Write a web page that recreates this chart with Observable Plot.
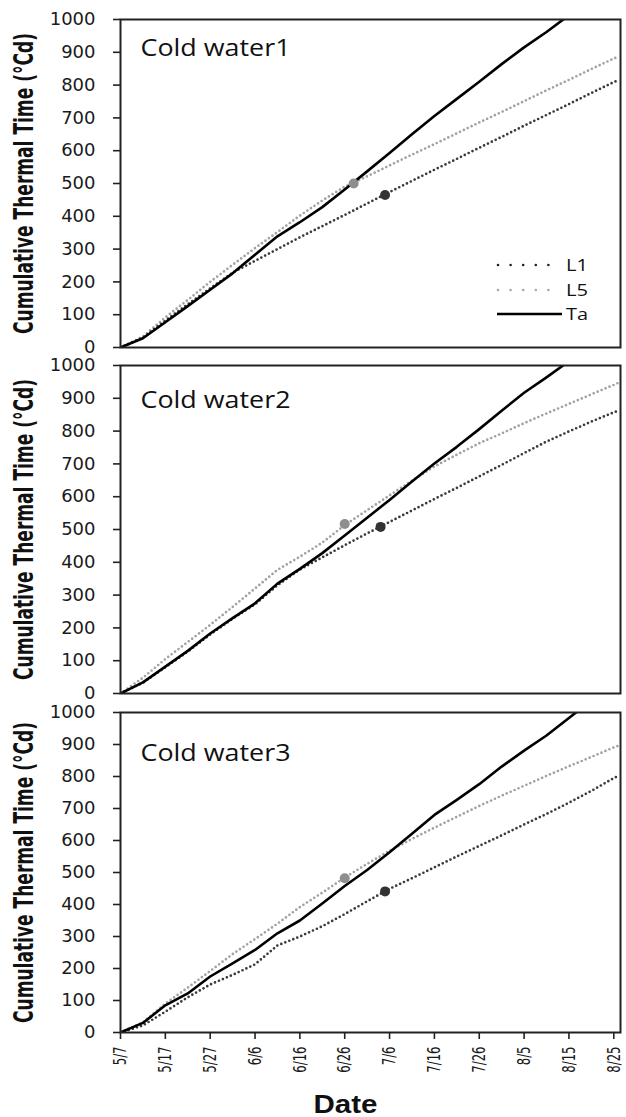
<!DOCTYPE html>
<html>
<head>
<meta charset="utf-8">
<script src="https://cdn.jsdelivr.net/npm/d3@7"></script>
<script src="https://cdn.jsdelivr.net/npm/@observablehq/plot@0.6"></script>
<style>
  body { margin: 0; background: #fff; }
  #chart { position: relative; width: 626px; height: 1117px; background: #fff; }
  #chart svg { display: block; overflow: visible; }
  #legend { position: absolute; left: 0; top: 0; pointer-events: none; }
</style>
</head>
<body>
<div id="chart"></div>
<script>
// ---------------- data ----------------
const panelTitles = ["Cold water1", "Cold water2", "Cold water3"];
const seriesNames = ["L1", "L5", "Ta"];
const yLabel = "Cumulative Thermal Time (°Cd)";
const xLabel = "Date";
const dates = ["5/7","5/12","5/17","5/22","5/27","6/1","6/6","6/11","6/16","6/21","6/26","7/1",
               "7/6","7/11","7/16","7/21","7/26","7/31","8/5","8/10","8/15","8/20","8/25","8/26"];
const xTickLabels = ["5/7","5/17","5/27","6/6","6/16","6/26","7/6","7/16","7/26","8/5","8/15","8/25"];
const yTicks = [0,100,200,300,400,500,600,700,800,900,1000];

// Cold water1
const cw1_L1 = [0,30,82,132,180,228,264,300,336,370,404,439,474,508,542,575,609,642,676,709,742,776,809,815];
const cw1_L5 = [0,33,92,145,200,252,303,352,402,448,490,522,555,588,620,653,686,718,751,784,816,849,881,887];
const cw1_Ta = [0,28,77,126,176,226,283,339,382,428,482,537,593,650,706,758,810,864,915,962,1013,null,null,null];
// Cold water2
const cw2_L1 = [0,33,80,128,180,228,272,330,378,415,452,488,523,558,593,627,662,697,733,768,799,829,857,862];
const cw2_L5 = [0,48,105,157,209,264,320,377,417,460,513,559,604,649,692,728,763,793,824,854,883,912,941,947];
const cw2_Ta = [0,34,82,130,183,230,275,335,380,428,482,536,590,646,701,752,806,862,917,964,1013,null,null,null];
// Cold water3
const cw3_L1 = [0,22,65,110,150,180,213,272,300,332,370,410,449,482,516,550,583,616,650,683,718,755,795,802];
const cw3_L5 = [0,32,90,140,192,245,292,340,392,437,484,527,568,605,640,674,708,740,771,802,832,861,891,896];
const cw3_Ta = [0,30,85,122,175,216,258,310,350,403,458,508,563,621,680,727,776,831,881,928,983,1037,null,null];

// highlighted points (one per leaf series) [L1, L5]
const markerDates  = [["7/5","6/28"], ["7/4","6/26"], ["7/5","6/26"]];
const markerValues = [[465, 500],     [508, 517],     [441, 482]];

// ---------------- helpers ----------------
const parse = s => { const [m, d] = s.split("/").map(Number); return new Date(2013, m - 1, d); };
const seriesData = [[cw1_L1, cw1_L5, cw1_Ta], [cw2_L1, cw2_L5, cw2_Ta], [cw3_L1, cw3_L5, cw3_Ta]];
const colors = {L1: "#3a3a3a", L5: "#a2a2a2", Ta: "#000"};
const markerColors = {L1: "#333333", L5: "#8e8e8e"};
const xDomain = [parse("5/7"), new Date(2013, 7, 26, 12)];
const xTicks = xTickLabels.map(parse);
const narrow = "'Liberation Sans Narrow','DejaVu Sans Condensed','Liberation Sans',sans-serif";

// layout (styles only)
const heights = [356, 346, 415];
const mTop = [19, 9, 10];
const mBottom = [9, 9, 85];
const titleDy = [19, 25, 31];
const yLabelLen = 301;

const chart = document.getElementById("chart");

panelTitles.forEach((title, p) => {
  const rows = [];
  seriesNames.forEach((s, k) => {
    seriesData[p][k].forEach((v, i) => { if (v != null) rows.push({series: s, date: parse(dates[i]), value: v}); });
  });
  const markers = ["L1", "L5"].map((s, k) => ({series: s, date: parse(markerDates[p][k]), value: markerValues[p][k]}));
  const last = p === panelTitles.length - 1;

  const marks = [
    Plot.axisY({ticks: yTicks, tickSize: 7, tickPadding: 18, label: null, tickFormat: d => String(d),
                fontSize: 18, fontFamily: "DejaVu Sans", stroke: "#222", strokeWidth: 1.6, fill: "#1a1a1a"}),
    Plot.line(rows.filter(d => d.series === "L5"), {x: "date", y: "value", stroke: colors.L5, strokeWidth: 2.7,
      strokeDasharray: "0 4.3", strokeLinecap: "round", clip: true}),
    Plot.line(rows.filter(d => d.series === "L1"), {x: "date", y: "value", stroke: colors.L1, strokeWidth: 2.7,
      strokeDasharray: "0 4.3", strokeLinecap: "round", clip: true}),
    Plot.line(rows.filter(d => d.series === "Ta"), {x: "date", y: "value", stroke: colors.Ta, strokeWidth: 2.6, clip: true}),
    Plot.dot(markers, {x: "date", y: "value", r: 5, fill: d => markerColors[d.series], stroke: "none"}),
    Plot.frame({stroke: "#222", strokeWidth: 2}),
    Plot.text([title], {text: d => d, frameAnchor: "top-left", dx: 20, dy: titleDy[p], lineAnchor: "top",
      textAnchor: "start", fontSize: 24, fontFamily: "Open Sans", fill: "#111"}),
    Plot.text([yLabel], {text: d => d, frameAnchor: "left", rotate: -90, dx: -96, textAnchor: "start",
      fontWeight: "bold", fontSize: 26, fontFamily: narrow, fill: "#111"})
  ];
  if (last) {
    marks.push(Plot.axisX({ticks: xTicks, tickSize: 7, tickPadding: 7, tickRotate: -90, label: null,
      tickFormat: d => `${d.getMonth() + 1}/${d.getDate()}`, fontSize: 18,
      fontFamily: narrow, stroke: "#222", strokeWidth: 1.6, fill: "#1a1a1a"}));
    marks.push(Plot.text([xLabel], {text: d => d, frameAnchor: "bottom", dx: -25, dy: 80, lineAnchor: "bottom",
      fontWeight: "bold", fontSize: 25, fontFamily: "'Liberation Sans',Arial,sans-serif", fill: "#111"}));
  }

  const svg = Plot.plot({
    width: 626, height: heights[p],
    marginLeft: 120, marginRight: 6, marginTop: mTop[p], marginBottom: mBottom[p],
    style: {fontFamily: "DejaVu Sans", fontSize: "18px", background: "white", overflow: "visible"},
    x: {type: "time", domain: xDomain, axis: last ? undefined : null},
    y: {domain: [0, 1000]},
    marks
  });

  const s = d3.select(svg);
  const byText = str => s.selectAll("text").filter(function () { return this.textContent === str; });
  // y label: start-anchored, shifted back by half its fitted length so it is centred on the frame
  byText(yLabel).attr("text-anchor", "start").attr("x", -yLabelLen / 2)
    .attr("textLength", yLabelLen).attr("lengthAdjust", "spacingAndGlyphs")
    .attr("font-size", 26).attr("font-weight", "bold").attr("font-family", narrow);
  byText(title).attr("textLength", 150).attr("lengthAdjust", "spacingAndGlyphs");
  if (last) {
    // condense rotated date labels along their reading direction only
    xTickLabels.forEach(lbl => {
      byText(lbl).attr("font-size", 18).attr("font-family", narrow).style("font-size", "18px")
        .each(function () {
          const t = this.getAttribute("transform") || "";
          this.setAttribute("transform", t + " scale(0.72,1)");
        });
    });
    byText(xLabel).attr("textLength", 64).attr("lengthAdjust", "spacingAndGlyphs");
  }
  chart.appendChild(svg);
});

// ---------------- legend (panel 1) ----------------
const legend = d3.select(chart).append("svg").attr("id", "legend").attr("width", 626).attr("height", 356);
const legendY = [265, 290, 314];
seriesNames.forEach((s, i) => {
  const g = legend.append("g").attr("transform", `translate(0,${legendY[i]})`);
  if (s === "Ta") {
    g.append("line").attr("x1", 497).attr("x2", 562).attr("y1", 0).attr("y2", 0)
      .attr("stroke", "#000").attr("stroke-width", 2.6);
  } else {
    g.append("line").attr("x1", 498).attr("x2", 561).attr("y1", 0).attr("y2", 0)
      .attr("stroke", s === "L1" ? "#222" : "#a8a8a8").attr("stroke-width", 2.6)
      .attr("stroke-linecap", "round").attr("stroke-dasharray", "0 12.6");
  }
  g.append("text").attr("x", 566).attr("y", 0).attr("dy", "0.36em")
    .attr("font-family", "Open Sans").attr("font-size", 17).attr("fill", "#111")
    .attr("textLength", 22).attr("lengthAdjust", "spacingAndGlyphs").text(s);
});
</script>
</body>
</html>
